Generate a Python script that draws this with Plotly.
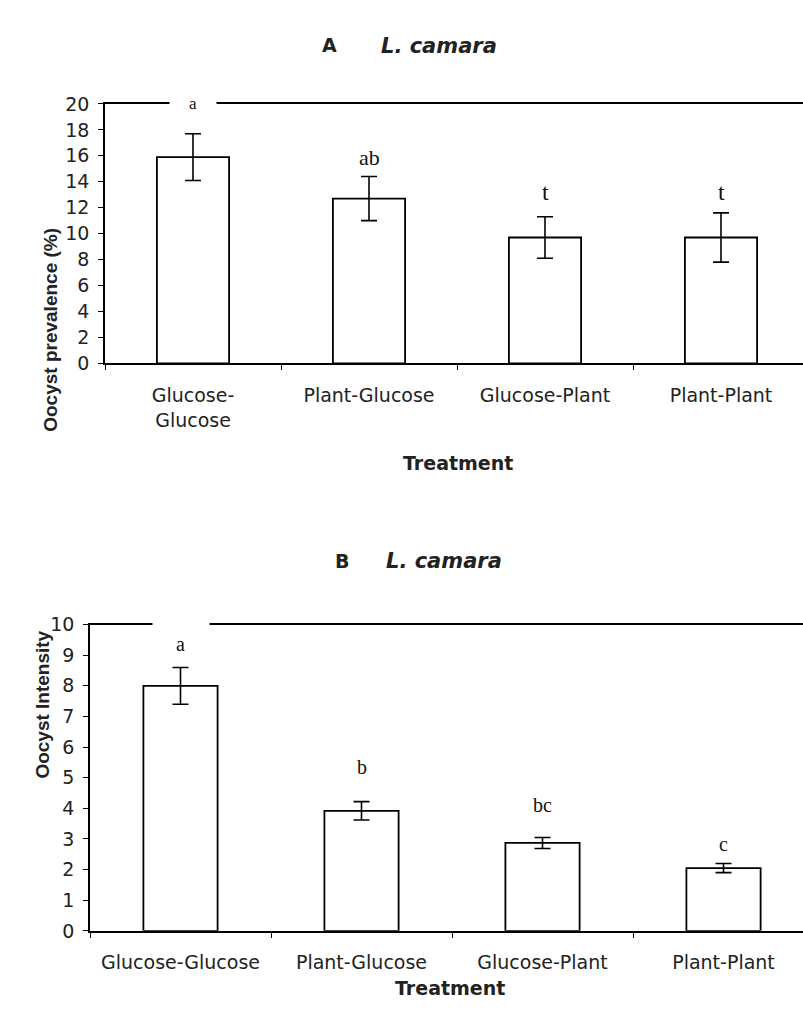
import plotly.graph_objects as go

# Treatments (x categories)
treatments_a = ["Glucose-<br>Glucose", "Plant-Glucose", "Glucose-Plant", "Plant-Plant"]
treatments_b = ["Glucose-Glucose", "Plant-Glucose", "Glucose-Plant", "Plant-Plant"]

# Panel A: oocyst prevalence (%) with standard errors and group letters
prevalence = [15.9, 12.7, 9.7, 9.7]
prevalence_se = [1.8, 1.7, 1.6, 1.9]
letters_a = ["a", "ab", "t", "t"]

# Panel B: oocyst intensity with standard errors and group letters
intensity = [8.0, 3.92, 2.87, 2.05]
intensity_se = [0.6, 0.3, 0.18, 0.15]
letters_b = ["a", "b", "bc", "c"]

yticks_a = [0, 2, 4, 6, 8, 10, 12, 14, 16, 18, 20]
yticks_b = [0, 1, 2, 3, 4, 5, 6, 7, 8, 9, 10]

W, H = 803, 1026
SANS = "DejaVu Sans"
ARIAL = "Liberation Sans, Arial"
SERIF = "Liberation Serif, Times New Roman"

fig = go.Figure()

bar_style = dict(marker=dict(color="white", line=dict(color="black", width=1.8)),
                 width=0.41, showlegend=False, hoverinfo="skip")

fig.add_trace(go.Bar(x=treatments_a, y=prevalence, xaxis="x", yaxis="y",
                     error_y=dict(type="data", array=prevalence_se, visible=True,
                                  color="black", thickness=1.6, width=8),
                     **bar_style))
fig.add_trace(go.Bar(x=treatments_b, y=intensity, xaxis="x2", yaxis="y2",
                     error_y=dict(type="data", array=intensity_se, visible=True,
                                  color="black", thickness=1.6, width=8),
                     **bar_style))

def xaxis_style(domain, rng, anchor):
    return dict(domain=domain, range=rng, type="category", anchor=anchor,
                showline=True, mirror=True,
                linecolor="black", linewidth=1.6, ticks="outside", tickson="boundaries",
                ticklen=5, tickcolor="black", showgrid=False, zeroline=False,
                tickfont=dict(family=SANS, size=19, color="#222"), ticklabelstandoff=14)

def yaxis_style(domain, anchor, ticks, top):
    return dict(domain=domain, anchor=anchor, range=[0, top], tickvals=ticks,
                showline=True, linecolor="black", linewidth=1.6, ticks="outside",
                ticklen=5, tickcolor="black", showgrid=False, zeroline=False,
                tickfont=dict(family=SANS, size=19, color="#222"), ticklabelstandoff=5)

# Plot areas in pixels (left, top, bottom, category step); right side runs off the page
a_left, a_top, a_bot, a_step = 105, 95, 360, 176
b_left, b_top, b_bot, b_step = 90, 627, 940, 181

fig.update_layout(
    width=W, height=H, autosize=False,
    margin=dict(l=0, r=0, t=0, b=0),
    paper_bgcolor="white", plot_bgcolor="white",
    xaxis=xaxis_style([a_left / W, 1], [-0.5, -0.5 + (W - a_left) / a_step], "y"),
    yaxis=yaxis_style([1 - a_bot / H, 1 - a_top / H], "x", yticks_a, 20),
    xaxis2=xaxis_style([b_left / W, 1], [-0.5, -0.5 + (W - b_left) / b_step], "y2"),
    yaxis2=yaxis_style([1 - b_bot / H, 1 - b_top / H], "x2", yticks_b, 10),
)

ann = []
# Group letters above the bars (the first one interrupts the top frame line)
letter_y_a = [20, 15.9, 13.2, 13.2]
letter_size_a = [17, 22, 24, 24]
for i, (t, yy, sz) in enumerate(zip(letters_a, letter_y_a, letter_size_a)):
    ann.append(dict(x=i, y=yy, xref="x", yref="y", text=t, showarrow=False,
                    font=dict(family=SERIF, size=sz, color="#111"),
                    bgcolor="white" if i == 0 else None,
                    width=44 if i == 0 else None))

# Break in the top frame line above the first bar of panel B
ann.append(dict(x=0, y=10, xref="x2", yref="y2", text=" ", showarrow=False,
                bgcolor="white", width=54, height=8))
letter_y_b = [9.35, 5.35, 4.1, 2.85]
letter_size_b = [20, 20, 20, 20]
for i, (t, yy, sz) in enumerate(zip(letters_b, letter_y_b, letter_size_b)):
    ann.append(dict(x=i, y=yy, xref="x2", yref="y2", text=t, showarrow=False,
                    font=dict(family=SERIF, size=sz, color="#111")))

def px(x, y):
    return x / W, 1 - y / H

# Panel titles
for letter, lx, ly, name_x in (("A", 329, 21, 439), ("B", 342, 562, 444)):
    x0, y0 = px(lx, ly)
    ann.append(dict(x=x0, y=y0, xref="paper", yref="paper", text="<b>%s</b>" % letter,
                    showarrow=False, font=dict(family=SANS, size=19, color="#222")))
    x1, _ = px(name_x, ly)
    ann.append(dict(x=x1, y=y0, xref="paper", yref="paper",
                    text="<b><i>L. camara</i></b>", showarrow=False,
                    font=dict(family=SANS, size=21, color="#222")))

# Axis titles
for tx, ty, txt in ((458, 462, "Treatment"), (450, 1012, "Treatment")):
    x0, y0 = px(tx, ty)
    ann.append(dict(x=x0, y=y0, xref="paper", yref="paper", text="<b>%s</b>" % txt,
                    showarrow=False, font=dict(family=SANS, size=19, color="#222")))
for tx, ty, txt in ((38, 220, "Oocyst prevalence (%)"), (30, 787, "Oocyst Intensity")):
    x0, y0 = px(tx, ty)
    ann.append(dict(x=x0, y=y0, xref="paper", yref="paper", text="<b>%s</b>" % txt,
                    textangle=-90, showarrow=False,
                    font=dict(family=ARIAL, size=19, color="#222")))

fig.update_layout(annotations=ann)
fig.write_html("out.html")
